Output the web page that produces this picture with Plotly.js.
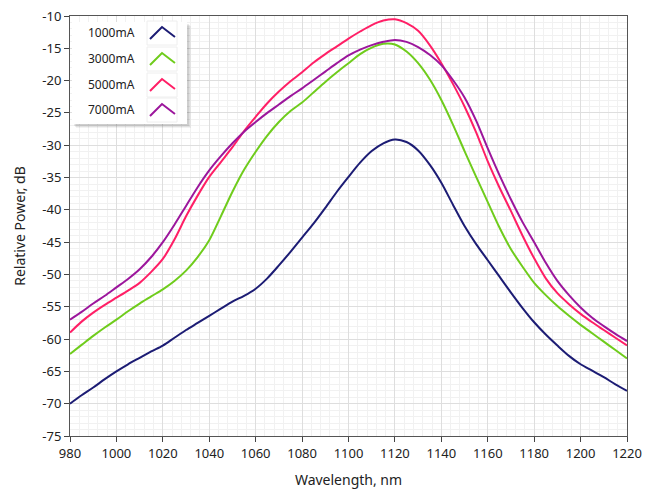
<!DOCTYPE html>
<html>
<head>
<meta charset="utf-8">
<script src="https://cdn.plot.ly/plotly-3.0.1.min.js"></script>
<style>
  html, body { margin: 0; padding: 0; background: #fff; }
  #chart { width: 661px; height: 489px; }
</style>
</head>
<body>
<div id="chart"></div>
<script>
// Wavelength grid (nm)
const wavelength = [980,985,990,995,1000,1005,1010,1015,1020,1025,1030,1035,1040,1045,1050,1055,1060,1065,1070,1075,1080,1085,1090,1095,1100,1105,1110,1115,1120,1125,1130,1135,1140,1145,1150,1155,1160,1165,1170,1175,1180,1185,1190,1195,1200,1205,1210,1215,1220];

// Relative power (dB) per drive current
const p1000 = [-70.0,-68.7,-67.5,-66.2,-65.0,-63.9,-62.9,-61.9,-61.0,-59.8,-58.6,-57.5,-56.4,-55.3,-54.2,-53.3,-52.2,-50.6,-48.6,-46.5,-44.3,-42.1,-39.7,-37.2,-34.9,-32.7,-30.9,-29.7,-29.1,-29.5,-30.8,-33.0,-35.8,-39.2,-42.5,-45.3,-47.8,-50.3,-52.8,-55.2,-57.4,-59.3,-61.0,-62.6,-63.9,-64.9,-65.9,-67.0,-68.0];
const p3000 = [-62.3,-60.9,-59.5,-58.2,-57.0,-55.7,-54.5,-53.4,-52.3,-51.0,-49.4,-47.3,-44.7,-41.0,-37.2,-33.8,-31.0,-28.5,-26.4,-24.7,-23.4,-21.8,-20.2,-18.7,-17.3,-15.9,-14.9,-14.3,-14.4,-15.5,-17.3,-19.8,-23.0,-26.8,-30.9,-34.9,-38.8,-42.7,-46.1,-48.8,-51.3,-53.2,-54.9,-56.4,-57.8,-59.1,-60.4,-61.7,-63.0];
const p5000 = [-59.0,-57.3,-55.9,-54.7,-53.6,-52.5,-51.3,-49.6,-47.6,-44.6,-41.0,-37.8,-34.9,-32.6,-30.3,-27.8,-25.6,-23.5,-21.7,-20.1,-18.7,-17.2,-15.9,-14.7,-13.5,-12.4,-11.4,-10.7,-10.5,-11.1,-12.3,-14.5,-17.3,-20.5,-24.0,-28.0,-32.5,-36.5,-40.2,-44.0,-47.5,-50.6,-52.9,-54.6,-56.1,-57.4,-58.6,-59.8,-61.0];
const p7000 = [-57.0,-55.8,-54.5,-53.3,-52.0,-50.7,-49.2,-47.3,-45.0,-42.3,-39.4,-36.5,-33.9,-31.7,-29.7,-27.9,-26.4,-25.0,-23.7,-22.4,-21.2,-19.9,-18.6,-17.3,-16.1,-15.2,-14.5,-14.0,-13.7,-14.0,-14.8,-16.0,-17.6,-19.9,-22.6,-26.2,-30.5,-34.6,-38.4,-41.9,-45.0,-48.2,-51.0,-53.2,-55.1,-56.7,-58.0,-59.2,-60.3];

const seriesNames = ["1000mA", "3000mA", "5000mA", "7000mA"];
const seriesData = [p1000, p3000, p5000, p7000];
const seriesColors = ["#1c1c74", "#6fcc1c", "#ff1f66", "#9c169c"];

const xTicks = [980,1000,1020,1040,1060,1080,1100,1120,1140,1160,1180,1200,1220];
const yTicks = [-75,-70,-65,-60,-55,-50,-45,-40,-35,-30,-25,-20,-15,-10];

const traces = seriesData.map((y, i) => ({
  x: wavelength, y: y, type: "scatter", mode: "lines",
  name: seriesNames[i],
  line: { color: seriesColors[i], width: 2, shape: "spline", smoothing: 0.8 },
  showlegend: false, hoverinfo: "skip"
}));

// custom legend (label left, caret symbol right) in pixel -> paper coords
const L = 70, R = 627, T = 16, B = 436;
const px = v => (v - L) / (R - L);
const py = v => (B - v) / (B - T);

const shapes = [];
const annotations = [];
// shadow
[[4, 0.05], [3, 0.07], [2, 0.08]].forEach(([o, a]) => {
  shapes.push({ type: "rect", xref: "paper", yref: "paper",
    x0: px(72 + o), x1: px(187 + o), y0: py(22 + o), y1: py(124 + o),
    fillcolor: "rgba(0,0,0," + a + ")", line: { width: 0 }, layer: "above" });
});
shapes.push({ type: "rect", xref: "paper", yref: "paper",
  x0: px(72), x1: px(187), y0: py(22), y1: py(124),
  fillcolor: "#ffffff", line: { width: 0 }, layer: "above" });

const rowY = [33, 59, 85, 110];
seriesNames.forEach((n, i) => {
  const cy = rowY[i];
  annotations.push({ xref: "paper", yref: "paper", x: px(137), y: py(cy),
    xanchor: "right", yanchor: "middle", showarrow: false, text: n,
    font: { family: "Noto Sans, sans-serif", size: 12, color: "#222" } });
  shapes.push({ type: "rect", xref: "paper", yref: "paper",
    x0: px(147), x1: px(177), y0: py(cy - 12), y1: py(cy + 12),
    fillcolor: "#ffffff", line: { color: "#eeeeee", width: 1 }, layer: "above" });
  shapes.push({ type: "path", xref: "paper", yref: "paper", layer: "above",
    path: "M" + px(150) + "," + py(cy + 6) + " L" + px(162) + "," + py(cy - 6) + " L" + px(175) + "," + py(cy + 4),
    line: { color: seriesColors[i], width: 2 } });
});

const axisFont = { family: "Noto Sans, sans-serif", size: 13, color: "#222" };

const layout = {
  width: 661, height: 489,
  margin: { l: L, r: 661 - R, t: T, b: 489 - B, pad: 0 },
  paper_bgcolor: "#ffffff", plot_bgcolor: "#ffffff",
  showlegend: false,
  xaxis: {
    range: [980, 1220], tickvals: xTicks, ticktext: xTicks.map(String),
    showgrid: true, gridcolor: "#dedede", gridwidth: 1,
    minor: { dtick: 4, tick0: 980, showgrid: true, gridcolor: "#f1f1f1", gridwidth: 1, ticks: "" },
    ticks: "outside", ticklen: 5, tickcolor: "#444", tickwidth: 1,
    showline: true, linecolor: "#555", linewidth: 1, mirror: true,
    zeroline: false, tickfont: axisFont,
    title: { text: "Wavelength, nm", font: { family: "Noto Sans, sans-serif", size: 14, color: "#222" }, standoff: 14 }
  },
  yaxis: {
    range: [-75, -10], tickvals: yTicks, ticktext: yTicks.map(String),
    showgrid: true, gridcolor: "#dedede", gridwidth: 1,
    minor: { dtick: 1, tick0: -75, showgrid: true, gridcolor: "#f1f1f1", gridwidth: 1, ticks: "" },
    ticks: "outside", ticklen: 5, tickcolor: "#444", tickwidth: 1,
    showline: true, linecolor: "#555", linewidth: 1, mirror: true,
    zeroline: false, tickfont: axisFont,
    title: { text: "Relative Power, dB", font: { family: "Noto Sans, sans-serif", size: 14, color: "#222" }, standoff: 13 }
  },
  shapes: shapes,
  annotations: annotations
};

Plotly.newPlot("chart", traces, layout, { displayModeBar: false, staticPlot: true });
</script>
</body>
</html>
